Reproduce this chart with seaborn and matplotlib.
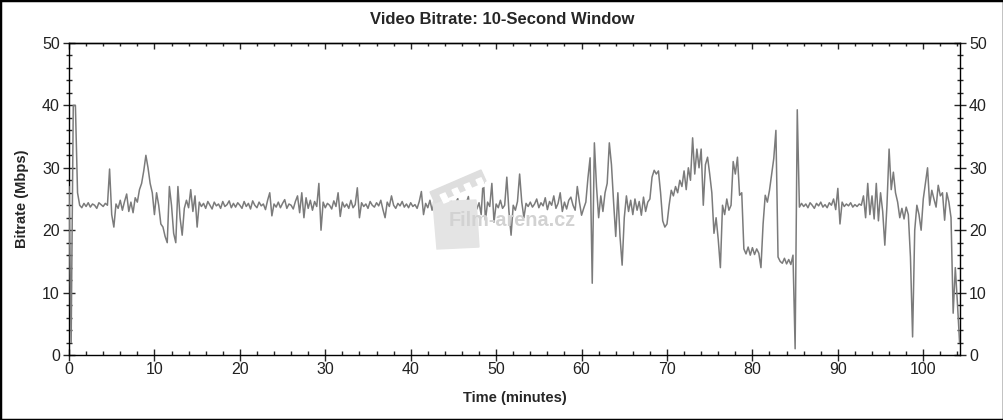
import numpy as np
import matplotlib
matplotlib.use("Agg")
import matplotlib.pyplot as plt
from matplotlib.patches import Polygon, Rectangle
from matplotlib.ticker import MultipleLocator
import seaborn as sns

# Video bitrate (Mbps), one value every 0.25 minutes
step_min = 0.25
rate_00_10 = [27.0, 2.0, 40.0, 40.0, 26.0, 24.0, 23.6, 24.3, 23.8, 24.4,
              23.7, 24.2, 24.0, 23.5, 24.4, 24.1, 23.8, 24.3, 24.0, 29.8,
              22.5, 20.5, 24.2, 23.5, 24.8, 23.2, 24.6, 25.8, 23.0, 24.5,
              22.8, 25.2, 24.5, 26.5, 27.5, 29.5, 32.0, 30.0, 27.5, 26.0]
rate_10_20 = [22.5, 26.0, 24.0, 21.0, 20.5, 19.0, 18.0, 27.0, 24.0, 19.5,
              18.0, 27.0, 22.0, 19.2, 23.5, 24.8, 23.6, 26.5, 23.0, 25.5,
              20.5, 24.5, 23.8, 24.3, 23.5, 24.6, 24.0, 23.4, 24.5, 23.9,
              24.2, 23.5, 24.6, 23.8, 24.1, 24.7, 23.6, 24.3, 23.7, 24.4]
rate_20_30 = [24.0, 23.5, 24.6, 23.8, 24.3, 23.4, 24.7, 24.0, 23.6, 24.5,
              23.9, 24.2, 23.3, 24.8, 26.0, 22.3, 24.2, 23.7, 24.5, 23.6,
              24.3, 24.9, 23.5, 24.2, 24.0, 23.4, 24.6, 25.5, 22.8, 26.0,
              22.0, 25.2, 23.5, 24.8, 23.2, 24.6, 23.8, 27.5, 20.0, 24.5]
rate_30_40 = [23.6, 24.3, 24.0, 23.4, 24.7, 23.8, 26.0, 22.2, 24.5, 23.7,
              24.2, 23.5, 24.8, 23.6, 24.1, 26.8, 22.0, 24.4, 23.8, 24.2,
              23.5, 24.6, 24.0, 23.7, 24.4, 23.9, 24.8, 23.3, 22.0, 24.5,
              23.8, 25.5, 24.0, 23.5, 24.3, 23.9, 24.6, 23.7, 24.2, 23.6]
rate_40_50 = [24.4, 23.8, 24.1, 23.5, 24.6, 26.2, 22.5, 24.3, 23.6, 24.8,
              23.2, 24.5, 23.9, 25.0, 23.0, 24.4, 24.0, 25.3, 22.8, 24.6,
              23.7, 24.2, 25.1, 22.9, 24.5, 23.6, 24.3, 25.4, 22.6, 24.0,
              24.7, 23.4, 24.4, 22.5, 28.5, 21.6, 24.5, 23.8, 27.5, 21.3]
rate_50_60 = [24.2, 23.6, 24.8, 23.5, 24.0, 28.5, 23.0, 19.2, 24.0, 23.2,
              24.6, 29.0, 24.5, 22.0, 24.3, 23.8, 24.5, 23.7, 24.2, 25.0,
              23.6, 24.4, 23.9, 25.2, 23.3, 24.6, 24.0, 25.5, 23.5, 24.3,
              26.0, 23.0, 24.5, 23.4, 24.8, 25.3, 24.0, 23.2, 27.0, 24.5]
rate_60_70 = [22.4, 23.5, 24.5, 28.4, 31.6, 11.5, 34.0, 27.0, 22.0, 25.5,
              23.0, 26.0, 27.5, 34.0, 30.5, 24.5, 19.0, 26.0, 19.0, 14.4,
              22.0, 25.5, 23.0, 24.8, 22.5, 25.0, 23.2, 24.6, 22.4, 25.3,
              23.0, 24.5, 25.0, 28.5, 29.6, 29.0, 29.5, 26.0, 21.5, 20.5]
rate_70_80 = [21.0, 24.0, 26.4, 25.5, 27.0, 26.0, 28.0, 27.0, 29.5, 26.5,
              30.0, 28.0, 34.8, 29.0, 33.0, 30.0, 33.0, 24.0, 30.5, 31.7,
              29.0, 26.0, 19.5, 22.0, 18.5, 14.0, 24.0, 22.5, 25.0, 23.2,
              24.0, 31.0, 29.0, 31.7, 25.6, 26.0, 17.0, 16.2, 17.3, 16.0]
rate_80_90 = [17.2, 16.1, 17.0, 16.3, 14.0, 21.0, 25.6, 24.5, 26.4, 29.0,
              31.5, 36.0, 15.7, 15.0, 14.7, 15.5, 14.6, 15.3, 14.5, 16.0,
              1.0, 39.3, 23.7, 24.3, 23.8, 24.2, 23.6, 24.4, 24.0, 23.5,
              24.3, 23.9, 24.5, 23.7, 24.1, 23.6, 24.4, 24.0, 25.0, 23.3]
rate_90_100 = [26.7, 21.0, 24.5, 23.8, 24.2, 23.9, 24.4, 23.7, 24.1, 23.8,
               24.2, 24.0, 25.5, 22.0, 27.5, 22.5, 25.5, 21.8, 27.5, 21.5,
               26.0, 23.0, 17.6, 24.0, 33.0, 26.5, 29.3, 26.0, 24.5, 22.0,
               23.5, 21.8, 23.7, 22.5, 15.7, 2.9, 20.0, 24.0, 22.5, 20.0]
rate_100_end = [25.0, 27.5, 30.0, 24.0, 26.4, 25.0, 23.7, 27.2, 25.5, 26.0,
                21.6, 26.0, 24.5, 22.0, 6.7, 14.0, 8.3, 2.0]

bitrate = (rate_00_10 + rate_10_20 + rate_20_30 + rate_30_40 + rate_40_50
           + rate_50_60 + rate_60_70 + rate_70_80 + rate_80_90 + rate_90_100
           + rate_100_end)
minutes = np.arange(len(bitrate)) * step_min

y_ticks = [0, 10, 20, 30, 40, 50]
x_ticks = [0, 10, 20, 30, 40, 50, 60, 70, 80, 90, 100]

sns.set_style("white")
plt.rcParams["font.family"] = ["Liberation Sans", "DejaVu Sans"]

W, H = 1004, 420
fig = plt.figure(figsize=(W / 100, H / 100), dpi=100)
ax = fig.add_axes([69 / W, 1 - 355 / H, 891 / W, 312 / H])


def px(x, y):
    return (x / W, 1 - y / H)


# watermark (film clapper + site name)
body = Polygon([px(433, 202), px(476, 200), px(479, 247), px(437, 249)],
               closed=True, transform=fig.transFigure, color="#e4e4e4", zorder=0)
bar = Polygon([px(430, 192), px(481, 170), px(486, 181), px(435, 203)],
              closed=True, transform=fig.transFigure, color="#dedede", zorder=0)
fig.patches.extend([body, bar])
for sx in [440, 452, 464, 476]:
    dy = (sx - 440) * 0.42
    stripe = Polygon([px(sx, 195 - dy), px(sx + 5, 193 - dy),
                      px(sx + 9, 201 - dy), px(sx + 4, 203 - dy)],
                     closed=True, transform=fig.transFigure, color="white", zorder=0)
    fig.patches.append(stripe)
fig.text(512 / W, 1 - 220 / H, "Film-arena.cz", ha="center", va="center",
         fontsize=14.3, fontweight="bold", color="#d2d2d2", zorder=0)
ax.patch.set_alpha(0)

sns.lineplot(x=minutes, y=bitrate, ax=ax, color="#7b7b7b", linewidth=1.1,
             estimator=None, zorder=3)

ax.set_xlim(0, 104.3)
ax.set_ylim(0, 50)
ax.set_xticks(x_ticks)
ax.set_yticks(y_ticks)
ax.xaxis.set_minor_locator(MultipleLocator(2))
ax.yaxis.set_minor_locator(MultipleLocator(2))

for s in ax.spines.values():
    s.set_color("black")
    s.set_linewidth(1.0)

ax.tick_params(axis="y", which="major", direction="inout", length=9, width=1,
               left=True, right=True, labelleft=True, labelright=True,
               labelsize=11.5, labelcolor="#222222", pad=2)
ax.tick_params(axis="y", which="minor", direction="inout", length=4.5, width=1,
               left=True, right=True)
ax.tick_params(axis="x", which="major", direction="inout", length=8, width=1,
               bottom=True, labelsize=11.5, labelcolor="#222222", pad=1)
ax.tick_params(axis="x", which="minor", direction="in", length=3, width=1,
               bottom=True)

top = ax.secondary_xaxis("top")
top.set_xticks(x_ticks)
top.xaxis.set_minor_locator(MultipleLocator(2))
top.tick_params(which="major", direction="in", length=4, width=1, labeltop=False)
top.tick_params(which="minor", direction="in", length=2.5, width=1)
top.spines["top"].set_linewidth(1.0)

ax.set_xlabel("Time (minutes)", fontsize=10.5, fontweight="bold")
ax.set_ylabel("Bitrate (Mbps)", fontsize=10.5, fontweight="bold")
ax.xaxis.set_label_coords(0.5, -0.115)
ax.yaxis.set_label_coords(-0.045, 0.5)

fig.text(0.5, 1 - 20 / H, "Video Bitrate: 10-Second Window", ha="center",
         va="center", fontsize=12, fontweight="bold")

fig.patches.append(Rectangle((0, 0), 1, 1, transform=fig.transFigure,
                             fill=False, edgecolor="black", linewidth=2.5))

fig.savefig("out.png", dpi=100)
